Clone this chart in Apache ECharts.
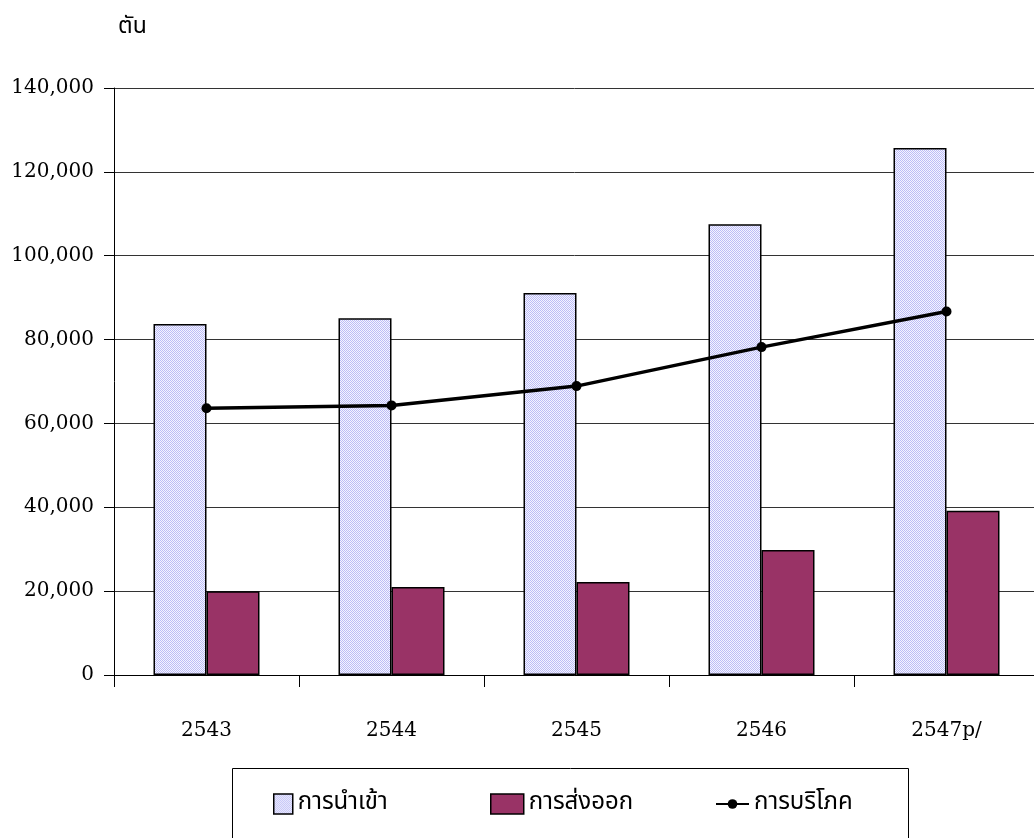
<!DOCTYPE html>
<html>
<head>
<meta charset="utf-8">
<script src="https://cdn.jsdelivr.net/npm/echarts@6/dist/echarts.min.js"></script>
<style>
html,body{margin:0;padding:0;background:#fff;}
#chart{width:1034px;height:838px;}
</style>
</head>
<body>
<div id="chart"></div>
<script>
var categories = ['2543', '2544', '2545', '2546', '2547p/'];
var importValues = [83700, 85100, 91100, 107500, 125700];
var exportValues = [20000, 21000, 22200, 29800, 39200];
var consumptionValues = [63600, 64300, 68900, 78200, 86700];
var seriesNames = ['การนำเข้า', 'การส่งออก', 'การบริโภค'];
var unitLabel = 'ตัน';

var thaiFont = '"Noto Sans Thai", "Noto Sans Thai Looped", "Noto Sans", "DejaVu Sans", sans-serif';
var serifFont = '"DejaVu Serif", "Liberation Serif", serif';

var pc = document.createElement('canvas');
pc.width = 4; pc.height = 4;
var ctx = pc.getContext('2d');
for (var py = 0; py < 4; py++) {
  for (var px = 0; px < 4; px++) {
    ctx.fillStyle = ((px + py) % 2 === 0) ? '#bcbcf6' : '#f4f4ff';
    ctx.fillRect(px, py, 1, 1);
  }
}
var importPattern = { image: pc, repeat: 'repeat' };

var chart = echarts.init(document.getElementById('chart'), null, { renderer: 'canvas' });
var legendText = { fontFamily: thaiFont, fontSize: 24, color: '#000' };
chart.setOption({
  animation: false,
  backgroundColor: '#fff',
  grid: { left: 114, width: 925, top: 88, bottom: 163, containLabel: false, outerBoundsMode: 'none' },
  graphic: [
    { type: 'text', left: 118, top: 17, style: { text: unitLabel, font: '23px ' + thaiFont, fill: '#000' } },
    { type: 'rect', shape: { x: 232.5, y: 768.5, width: 676, height: 100 }, style: { fill: 'none', stroke: '#000', lineWidth: 1 }, z: 1 }
  ],
  legend: [
    { data: [{ name: seriesNames[0], icon: 'rect' }], left: 273, top: 792, itemWidth: 19, itemHeight: 20, itemGap: 6, textStyle: legendText, padding: 0,
      itemStyle: { borderColor: '#000', borderWidth: 1.5 } },
    { data: [{ name: seriesNames[1], icon: 'rect' }], left: 490, top: 792, itemWidth: 33, itemHeight: 20, textStyle: legendText, padding: 0,
      itemStyle: { borderColor: '#000', borderWidth: 1.5 } },
    { data: [seriesNames[2]], left: 715, top: 792, itemWidth: 33, itemHeight: 12, textStyle: legendText, padding: 0 }
  ],
  xAxis: {
    type: 'category',
    data: categories,
    axisLine: { lineStyle: { color: '#000', width: 1 } },
    axisTick: { show: true, length: 12, lineStyle: { color: '#000' }, interval: 0 },
    axisLabel: { fontFamily: serifFont, fontSize: 20, color: '#000', margin: 46 }
  },
  yAxis: {
    type: 'value',
    min: 0, max: 140000, interval: 20000,
    axisLine: { show: true, lineStyle: { color: '#000', width: 1 } },
    axisTick: { show: true, length: 10, inside: false, lineStyle: { color: '#000' } },
    splitLine: { lineStyle: { color: '#333', width: 1 } },
    axisLabel: {
      fontFamily: serifFont, fontSize: 20, color: '#000', margin: 20,
      formatter: function (v) { return v.toLocaleString('en-US'); }
    }
  },
  series: [
    {
      name: seriesNames[0], type: 'bar', data: importValues, barWidth: 53, barGap: '0%',
      itemStyle: { color: importPattern, borderColor: '#000', borderWidth: 1.5 }
    },
    {
      name: seriesNames[1], type: 'bar', data: exportValues, barWidth: 53, barGap: '0%',
      itemStyle: { color: '#993366', borderColor: '#000', borderWidth: 1.5 }
    },
    {
      name: seriesNames[2], type: 'line', data: consumptionValues,
      symbol: 'circle', symbolSize: 10,
      lineStyle: { color: '#000', width: 3.5 },
      itemStyle: { color: '#000' },
      z: 5
    }
  ]
});
</script>
</body>
</html>
